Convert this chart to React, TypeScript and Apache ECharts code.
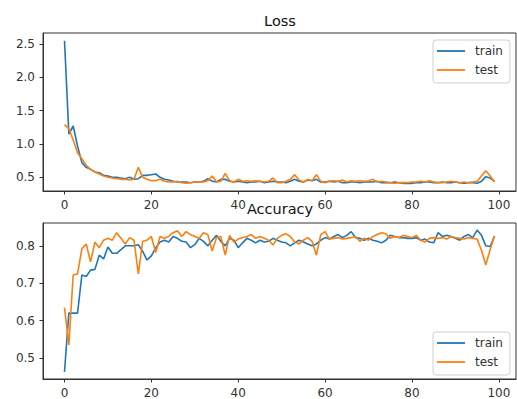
import React, { useEffect, useRef } from "react";
import * as echarts from "echarts";

const epochs: number[] = Array.from({ length: 100 }, (_, i) => i);

const trainLoss: number[] = [
  2.55, 1.15, 1.27, 0.97, 0.72, 0.65, 0.62, 0.58, 0.57, 0.53,
  0.52, 0.50, 0.50, 0.49, 0.48, 0.50, 0.47, 0.48, 0.53, 0.53,
  0.54, 0.55, 0.50, 0.47, 0.46, 0.44, 0.43, 0.43, 0.43, 0.42,
  0.43, 0.43, 0.44, 0.48, 0.44, 0.43, 0.47, 0.47, 0.44, 0.43,
  0.44, 0.43, 0.42, 0.43, 0.43, 0.44, 0.42, 0.43, 0.44, 0.43,
  0.43, 0.42, 0.44, 0.47, 0.44, 0.43, 0.46, 0.45, 0.47, 0.43,
  0.43, 0.44, 0.43, 0.44, 0.42, 0.42, 0.43, 0.43, 0.42, 0.43,
  0.43, 0.43, 0.44, 0.42, 0.42, 0.42, 0.43, 0.42, 0.41, 0.41,
  0.41, 0.42, 0.42, 0.43, 0.43, 0.42, 0.42, 0.43, 0.42, 0.42,
  0.43, 0.42, 0.41, 0.42, 0.42, 0.41, 0.44, 0.51, 0.49, 0.44,
];

const testLoss: number[] = [
  1.29, 1.23, 1.06, 0.87, 0.78, 0.68, 0.62, 0.58, 0.55, 0.52,
  0.50, 0.49, 0.48, 0.47, 0.47, 0.46, 0.47, 0.65, 0.50, 0.47,
  0.45, 0.45, 0.47, 0.44, 0.43, 0.43, 0.44, 0.42, 0.41, 0.42,
  0.43, 0.43, 0.43, 0.45, 0.52, 0.43, 0.44, 0.56, 0.45, 0.43,
  0.47, 0.44, 0.45, 0.44, 0.45, 0.44, 0.43, 0.44, 0.49, 0.42,
  0.42, 0.44, 0.47, 0.54, 0.46, 0.43, 0.47, 0.45, 0.54, 0.44,
  0.42, 0.44, 0.45, 0.44, 0.46, 0.43, 0.45, 0.44, 0.45, 0.44,
  0.45, 0.47, 0.43, 0.44, 0.43, 0.42, 0.41, 0.42, 0.42, 0.42,
  0.43, 0.43, 0.44, 0.43, 0.45, 0.43, 0.42, 0.42, 0.43, 0.44,
  0.43, 0.42, 0.43, 0.42, 0.43, 0.44, 0.52, 0.60, 0.52, 0.43,
];

const trainAcc: number[] = [
  0.463, 0.620, 0.620, 0.620, 0.722, 0.718, 0.735, 0.737, 0.775, 0.765,
  0.797, 0.780, 0.780, 0.790, 0.800, 0.800, 0.800, 0.803, 0.785, 0.762,
  0.773, 0.795, 0.810, 0.815, 0.810, 0.825, 0.820, 0.812, 0.810, 0.795,
  0.803, 0.820, 0.812, 0.800, 0.815, 0.828, 0.812, 0.800, 0.820, 0.815,
  0.795, 0.808, 0.820, 0.815, 0.808, 0.815, 0.810, 0.812, 0.820, 0.815,
  0.810, 0.808, 0.800, 0.808, 0.815, 0.810, 0.805, 0.800, 0.805, 0.815,
  0.822, 0.818, 0.825, 0.830, 0.822, 0.828, 0.838, 0.822, 0.820, 0.815,
  0.820, 0.815, 0.812, 0.808, 0.815, 0.828, 0.825, 0.822, 0.822, 0.820,
  0.820, 0.822, 0.815, 0.818, 0.810, 0.808, 0.835, 0.825, 0.828, 0.825,
  0.820, 0.815, 0.825, 0.830, 0.822, 0.842, 0.828, 0.800, 0.798, 0.826,
];

const testAcc: number[] = [
  0.635, 0.535, 0.722, 0.725, 0.792, 0.805, 0.757, 0.810, 0.795, 0.815,
  0.820, 0.815, 0.835, 0.820, 0.805, 0.822, 0.815, 0.725, 0.812, 0.815,
  0.825, 0.782, 0.825, 0.820, 0.825, 0.835, 0.840, 0.825, 0.838, 0.830,
  0.825, 0.820, 0.835, 0.830, 0.786, 0.822, 0.825, 0.775, 0.828, 0.810,
  0.818, 0.822, 0.825, 0.830, 0.820, 0.825, 0.820, 0.815, 0.802, 0.820,
  0.828, 0.832, 0.825, 0.810, 0.805, 0.815, 0.822, 0.812, 0.775, 0.830,
  0.838, 0.818, 0.820, 0.822, 0.818, 0.820, 0.822, 0.825, 0.812, 0.820,
  0.815, 0.825, 0.830, 0.835, 0.832, 0.820, 0.825, 0.822, 0.828, 0.825,
  0.822, 0.828, 0.815, 0.810, 0.820, 0.822, 0.820, 0.822, 0.818, 0.825,
  0.822, 0.820, 0.818, 0.822, 0.820, 0.818, 0.788, 0.749, 0.790, 0.826,
];

const xTicks: number[] = [0, 20, 40, 60, 80, 100];
const lossTicks: number[] = [0.5, 1.0, 1.5, 2.0, 2.5];
const accTicks: number[] = [0.5, 0.6, 0.7, 0.8];
const seriesNames: string[] = ["train", "test"];
const titles: string[] = ["Loss", "Accuracy"];

const BLUE = "#1f77b4";
const ORANGE = "#ff7f0e";
const INK = "#333";
const FONT = "DejaVu Sans";

function pairs(ys: number[]): number[][] {
  return epochs.map((x, i) => [x, ys[i]]);
}

export default function App() {
  const ref = useRef<HTMLDivElement>(null);

  useEffect(() => {
    if (!ref.current) return;
    const chart = echarts.init(ref.current, undefined, { renderer: "svg" });

    const xAxisBase = (gridIndex: number) => ({
      type: "value" as const,
      gridIndex,
      min: -4.95,
      max: 103.95,
      splitLine: { show: false },
      axisLine: { show: true, onZero: false, lineStyle: { color: INK, width: 1 } },
      axisTick: {
        show: true,
        customValues: xTicks,
        length: 3.5,
        lineStyle: { color: INK, width: 1 },
      },
      axisLabel: {
        customValues: xTicks,
        color: INK,
        fontFamily: FONT,
        fontSize: 12,
        margin: 8,
        formatter: (v: number) => String(Math.round(v)),
      },
    });

    const yAxisBase = (gridIndex: number, min: number, max: number, ticks: number[]) => ({
      type: "value" as const,
      gridIndex,
      min,
      max,
      splitLine: { show: false },
      axisLine: { show: true, onZero: false, lineStyle: { color: INK, width: 1 } },
      axisTick: {
        show: true,
        customValues: ticks,
        length: 3.5,
        lineStyle: { color: INK, width: 1 },
      },
      axisLabel: {
        customValues: ticks,
        color: INK,
        fontFamily: FONT,
        fontSize: 12,
        margin: 8,
        formatter: (v: number) => v.toFixed(1),
      },
    });

    const legendBase = (top: number) => ({
      orient: "vertical" as const,
      left: 433,
      top,
      data: seriesNames,
      icon: "rect",
      itemWidth: 28,
      itemHeight: 1.8,
      itemGap: 5,
      padding: [4, 7, 6, 4],
      borderColor: "#d0d0d0",
      borderWidth: 1,
      borderRadius: 3,
      backgroundColor: "rgba(255,255,255,0.8)",
      selectedMode: false,
      textStyle: {
        color: INK,
        fontFamily: FONT,
        fontSize: 12,
        lineHeight: 14,
        padding: [0, 0, 0, 5],
      },
    });

    const line = (name: string, color: string, idx: number, data: number[]) => ({
      type: "line" as const,
      name,
      xAxisIndex: idx,
      yAxisIndex: idx,
      data: pairs(data),
      showSymbol: false,
      symbol: "none",
      color,
      lineStyle: { color, width: 1.6 },
      z: name === "test" ? 3 : 2,
    });

    chart.setOption({
      animation: false,
      backgroundColor: "#fff",
      grid: [
        { left: 43, right: 1, top: 33, height: 158, show: true, borderColor: INK, borderWidth: 1, backgroundColor: "transparent" },
        { left: 43, right: 1, top: 223, height: 158, show: true, borderColor: INK, borderWidth: 1, backgroundColor: "transparent" },
      ],
      xAxis: [xAxisBase(0), xAxisBase(1)],
      yAxis: [
        yAxisBase(0, 0.295, 2.665, lossTicks),
        yAxisBase(1, 0.444, 0.861, accTicks),
      ],
      legend: [legendBase(40), legendBase(332)],
      graphic: [
        {
          type: "text",
          x: 280,
          y: 21,
          style: { text: titles[0], fill: "#111", font: `14.5px ${FONT}`, align: "center", verticalAlign: "middle" },
        },
        {
          type: "text",
          x: 280,
          y: 209,
          z: 10,
          style: { text: titles[1], fill: "#111", font: `14.5px ${FONT}`, align: "center", verticalAlign: "middle" },
        },
      ],
      series: [
        line("train", BLUE, 0, trainLoss),
        line("test", ORANGE, 0, testLoss),
        line("train", BLUE, 1, trainAcc),
        line("test", ORANGE, 1, testAcc),
      ],
    });

    return () => chart.dispose();
  }, []);

  return (
    <div
      ref={ref}
      style={{ position: "fixed", left: 0, top: 0, width: 517, height: 399, background: "#fff" }}
    />
  );
}
